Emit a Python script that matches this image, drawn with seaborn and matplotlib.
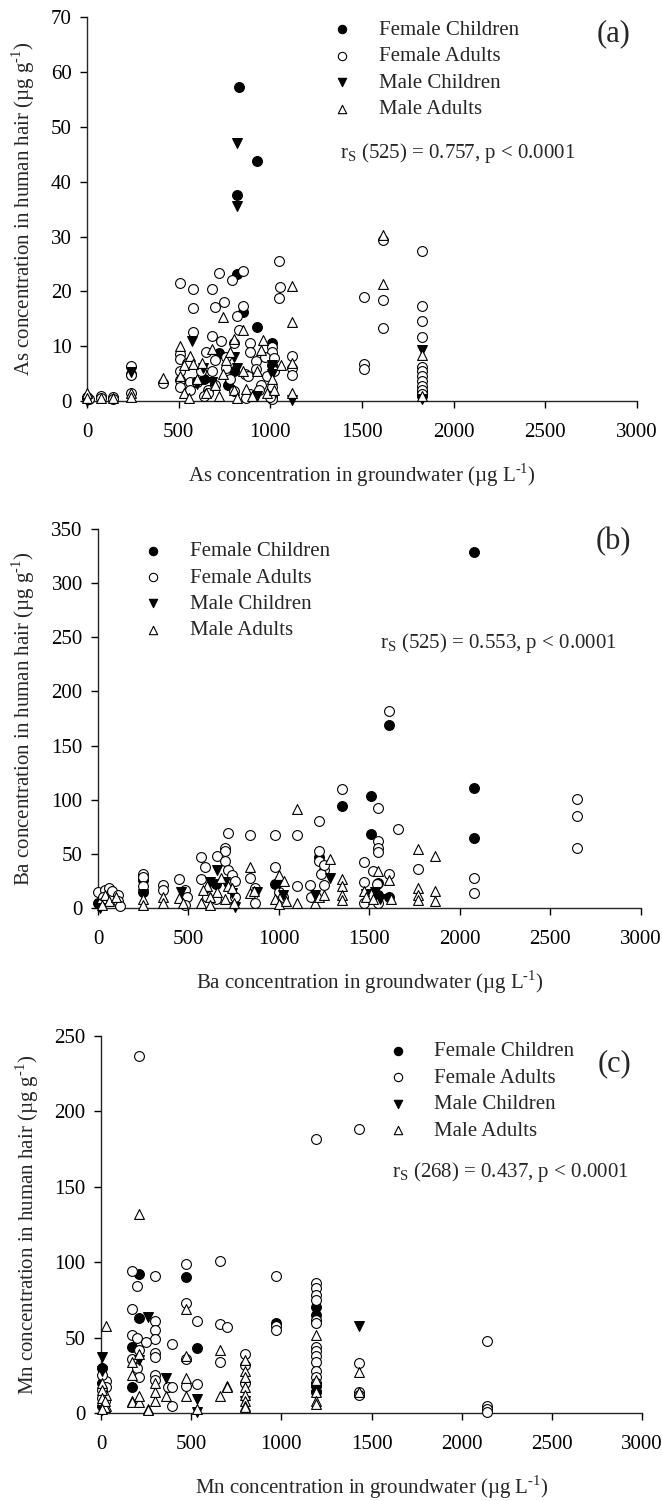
import matplotlib
matplotlib.use("Agg")
import matplotlib.pyplot as plt
import seaborn as sns
import pandas as pd

# ---------------- data ----------------
GROUPS = ["Female Children", "Female Adults", "Male Children", "Male Adults"]

# Panel (a) As
AS_FC_X = [830, 925, 820, 820, 850, 925, 1010, 720, 640, 590, 770, 1830, 0, 240, 1010, 800, 1830]
AS_FC_Y = [57.3, 43.7, 37.6, 23.2, 16.3, 13.5, 10.5, 8.7, 4.0, 3.5, 3.0, 1.8, 0.5, 5.0, 6.5, 5.5, 1.0]
AS_FA_X = [510, 580, 680, 720, 790, 850, 1050, 1055, 1050, 580, 700, 750, 850, 820, 580, 680, 730,
           830, 800, 890, 890, 1010, 1010, 1120, 1120, 1120, 510, 510, 510, 510, 510, 545, 560, 560,
           620, 650, 660, 660, 680, 700, 760, 780, 800, 860, 880, 890, 920, 920, 950, 970, 980, 1010,
           1010, 1010, 1020, 1020, 240, 240, 240, 415, 75, 75, 140, 140, 0, 10, 1510, 1510, 1510,
           1615, 1615, 1615, 1830, 1830, 1830, 1830, 1830, 1830, 1830, 1830, 1830, 1830, 1830, 600, 870,
           640, 700, 760, 940, 1000]
AS_FA_Y = [21.5, 20.5, 20.4, 23.4, 22.0, 23.7, 25.5, 20.8, 18.7, 17.0, 17.2, 18.0, 17.4, 15.5, 12.6,
           11.8, 11.0, 13.0, 10.5, 10.5, 9.0, 9.8, 9.0, 8.3, 6.0, 4.8, 8.6, 7.6, 5.5, 3.8, 2.5, 7.0,
           3.5, 2.0, 5.5, 9.0, 2.0, 1.5, 5.5, 7.5, 6.0, 4.0, 1.8, 5.0, 4.6, 1.2, 7.3, 5.8, 3.0, 8.0,
           4.5, 2.5, 1.0, 0.3, 7.8, 5.5, 6.4, 4.8, 1.5, 3.3, 0.9, 0.5, 0.7, 0.4, 0.8, 0.3, 19.0, 6.7,
           5.8, 29.3, 18.5, 13.4, 27.4, 17.3, 14.6, 11.7, 6.2, 5.5, 4.6, 3.7, 2.8, 2.0, 1.3, 3.5, 0.5,
           1.0, 3.0, 8.0, 2.0, 0.8]
AS_MC_X = [820, 820, 575, 1830, 240, 635, 600, 680, 800, 820, 1010, 1010, 1120, 1830, 0, 930]
AS_MC_Y = [47.0, 35.6, 10.9, 9.3, 5.3, 6.0, 3.2, 3.5, 8.0, 6.0, 6.5, 5.0, 0.2, 0.3, 0.1, 1.0]
AS_MA_X = [1615, 1615, 1120, 1120, 740, 850, 800, 960, 510, 530, 560, 580, 510, 530, 555, 600, 630,
           680, 700, 720, 740, 760, 780, 800, 820, 850, 870, 900, 950, 980, 1010, 1020, 1060, 1120,
           1120, 1830, 1830, 415, 240, 240, 0, 0, 140, 75, 650, 930]
AS_MA_Y = [30.2, 21.4, 21.0, 14.4, 15.3, 13.0, 11.3, 11.2, 10.0, 6.5, 8.3, 6.8, 4.5, 1.5, 0.5, 4.0,
           7.0, 9.5, 3.0, 1.0, 5.0, 7.5, 9.0, 2.0, 0.5, 5.5, 2.2, 1.0, 9.3, 1.5, 4.0, 2.0, 6.5, 7.0,
           1.5, 8.4, 1.0, 4.2, 1.5, 0.8, 1.5, 0.6, 0.5, 0.6, 1.5, 5.5]

# Panel (b) Ba
BA_FC_X = [2080, 1610, 2080, 1350, 1510, 1510, 2080, 1220, 980, 250, 250, 1550, 1550, 650, 0, 1610]
BA_FC_Y = [329, 169, 111, 94, 103, 68, 65, 47, 22, 26, 15, 23, 12, 22, 5, 10]
BA_FA_X = [1610, 1350, 1550, 1220, 1660, 720, 840, 980, 1100, 1550, 1550, 1550, 700, 700, 1220, 570,
           660, 700, 1220, 1250, 1470, 1520, 980, 590, 1770, 1230, 2080, 2080, 2650, 2650, 2650, 1100,
           1170, 1250, 1470, 1540, 1610, 570, 720, 740, 760, 840, 870, 870, 250, 250, 250, 360, 360,
           450, 480, 490, 480, 0, 40, 60, 80, 110, 110, 120, 30, 20, 600, 650, 1000, 1020, 1470, 1550,
           1180, 760, 1250]
BA_FA_Y = [182, 110, 92, 80, 73, 69, 67, 67, 67, 62, 55, 52, 55, 53, 53, 47, 48, 43, 43, 35, 42, 34,
           38, 38, 36, 31, 28, 14, 101, 85, 55, 20, 21, 21, 24, 22, 31, 27, 35, 30, 25, 28, 18, 5, 31,
           29, 20, 21, 17, 27, 17, 10, 3, 15, 17, 18, 16, 12, 6, 2, 10, 5, 10, 8, 15, 10, 5, 5, 10,
           10, 40]
BA_MC_X = [1280, 660, 620, 700, 880, 1000, 1020, 1480, 1530, 460, 250, 740, 1560, 10, 760, 1200]
BA_MC_Y = [28, 35, 24, 24, 15, 22, 12, 13, 15, 15, 13, 14, 8, 0, 1, 12]
BA_MA_X = [1100, 1770, 1860, 1280, 840, 1000, 1030, 1350, 1350, 1350, 1350, 1550, 1610, 1620, 1770,
           1770, 1770, 1860, 1860, 1470, 1480, 1520, 1200, 1220, 1250, 1100, 980, 1000, 1040, 840, 860,
           720, 660, 620, 600, 580, 570, 620, 700, 750, 680, 450, 470, 360, 360, 250, 250, 40, 60, 20,
           100, 740]
BA_MA_Y = [91, 54, 48, 45, 38, 30, 25, 27, 20, 12, 7, 34, 26, 8, 18, 12, 7, 16, 6, 16, 10, 8, 5, 10,
           12, 5, 8, 4, 6, 14, 16, 20, 15, 10, 20, 17, 5, 3, 8, 5, 28, 9, 5, 10, 5, 8, 3, 12, 6, 3,
           10, 18]

# Panel (c) Mn
MN_FC_X = [210, 470, 210, 170, 530, 170, 970, 1190, 1190, 1190, 1190, 5, 5]
MN_FC_Y = [92, 90, 63, 44, 43, 17, 60, 70, 65, 18, 14, 30, 20]
MN_FA_X = [210, 1190, 1430, 170, 200, 300, 470, 660, 970, 170, 470, 300, 300, 300, 170, 200, 210, 170,
           200, 210, 250, 395, 530, 660, 700, 970, 970, 1190, 1190, 1190, 1190, 1190, 1190, 1190, 1190,
           1190, 1190, 1190, 1190, 1190, 470, 660, 300, 300, 300, 300, 370, 395, 395, 470, 530, 800,
           800, 800, 1430, 1430, 1430, 2140, 2140, 2140, 2140, 30, 30, 5, 5, 5, 5, 20]
MN_FA_Y = [237, 182, 188, 94, 84, 91, 99, 101, 91, 69, 73, 61, 55, 49, 52, 50, 42, 36, 30, 24, 47, 46,
           61, 59, 57, 58, 55, 86, 83, 78, 75, 62, 60, 44, 41, 38, 34, 28, 24, 20, 36, 34, 40, 37, 25,
           22, 17, 17, 5, 18, 19, 39, 32, 20, 33, 14, 12, 48, 5, 3, 1, 21, 17, 25, 15, 10, 5, 8]
MN_MC_X = [260, 1430, 210, 360, 530, 530, 5, 5, 1190, 1190, 5, 800]
MN_MC_Y = [64, 58, 35, 23, 9, 1, 37, 28, 17, 12, 2, 8]
MN_MA_X = [210, 30, 470, 660, 470, 210, 170, 170, 470, 470, 660, 700, 1190, 1190, 1190, 1190, 1190,
           1430, 1430, 800, 800, 800, 800, 800, 800, 800, 800, 170, 170, 210, 210, 260, 260, 300, 300,
           300, 360, 530, 30, 30, 5, 5, 5, 20, 20, 5, 700]
MN_MA_Y = [132, 58, 69, 42, 38, 39, 34, 25, 23, 11, 11, 18, 52, 22, 14, 8, 6, 27, 14, 35, 28, 24, 17,
           12, 8, 5, 4, 8, 7, 7, 11, 3, 2, 8, 14, 20, 11, 3, 12, 5, 20, 15, 10, 4, 8, 3, 17]

X_TICKS = [0, 500, 1000, 1500, 2000, 2500, 3000]
AS_Y_TICKS = [0, 10, 20, 30, 40, 50, 60, 70]
BA_Y_TICKS = [0, 50, 100, 150, 200, 250, 300, 350]
MN_Y_TICKS = [0, 50, 100, 150, 200, 250]

PANELS = [
    dict(el="As", letter="(a)", stat="r$_{\\mathregular{S}}$ (525) = 0.757, p < 0.0001",
         data=[(AS_FC_X, AS_FC_Y), (AS_FA_X, AS_FA_Y), (AS_MC_X, AS_MC_Y), (AS_MA_X, AS_MA_Y)],
         yticks=AS_Y_TICKS),
    dict(el="Ba", letter="(b)", stat="r$_{\\mathregular{S}}$ (525) = 0.553, p < 0.0001",
         data=[(BA_FC_X, BA_FC_Y), (BA_FA_X, BA_FA_Y), (BA_MC_X, BA_MC_Y), (BA_MA_X, BA_MA_Y)],
         yticks=BA_Y_TICKS),
    dict(el="Mn", letter="(c)", stat="r$_{\\mathregular{S}}$ (268) = 0.437, p < 0.0001",
         data=[(MN_FC_X, MN_FC_Y), (MN_FA_X, MN_FA_Y), (MN_MC_X, MN_MC_Y), (MN_MA_X, MN_MA_Y)],
         yticks=MN_Y_TICKS),
]

# ---------------- styling ----------------
sns.set_style("ticks")
plt.rcParams["font.family"] = ["Liberation Serif", "DejaVu Serif"]
plt.rcParams["mathtext.fontset"] = "custom"
plt.rcParams["mathtext.rm"] = "Liberation Serif"
plt.rcParams["axes.linewidth"] = 1.0

STYLE = {
    "Female Children": dict(marker="o", facecolor="black"),
    "Female Adults": dict(marker="o", facecolor="white"),
    "Male Children": dict(marker="v", facecolor="black"),
    "Male Adults": dict(marker="^", facecolor="white"),
}

FS = 15
fig = plt.figure(figsize=(6.62, 15.01), dpi=100)

axes_rect = [
    [0.1314, 0.7328, 0.8308, 0.2558],
    [0.1480, 0.3951, 0.8200, 0.2525],
    [0.1526, 0.0586, 0.8172, 0.2512],
]
legend_anchor = [(0.445, 0.992), (0.083, 0.967), (0.529, 0.985)]
letter_pos = [(0.958, 0.958), (0.950, 0.966), (0.950, 0.926)]
stat_pos = [(0.46, 0.646), (0.519, 0.699), (0.538, 0.639)]

SUP = "$^{\\text{-1}}$"

for i, p in enumerate(PANELS):
    ax = fig.add_axes(axes_rect[i])
    for g, (xs, ys) in zip(GROUPS, p["data"]):
        df = pd.DataFrame({"x": xs, "y": ys})
        st = STYLE[g]
        sns.scatterplot(data=df, x="x", y="y", marker=st["marker"], s=50,
                        facecolor=st["facecolor"], edgecolor="black", linewidth=0.8,
                        label=g, ax=ax, clip_on=False, zorder=3)
    ax.set_xlim(0, 3000)
    ax.set_ylim(0, p["yticks"][-1])
    ax.set_xticks(X_TICKS)
    ax.set_yticks(p["yticks"])
    sns.despine(ax=ax)
    ax.tick_params(axis="both", direction="out", length=5, width=1, labelsize=FS, colors="black")
    ax.tick_params(axis="x", pad=11)
    ax.tick_params(axis="y", pad=6)
    ax.set_xlabel(p["el"] + " concentration in groundwater (µg L" + SUP + ")",
                  fontsize=FS, labelpad=14)
    ax.set_ylabel(p["el"] + " concentration in human hair (µg g" + SUP + ")",
                  fontsize=FS, labelpad=10)
    leg = ax.legend(loc="upper left", bbox_to_anchor=legend_anchor[i], frameon=False,
                    fontsize=FS, handlelength=1.0, handletextpad=1.25, labelspacing=0.33,
                    borderpad=0, borderaxespad=0, markerscale=0.85)
    ax.text(*letter_pos[i], p["letter"], transform=ax.transAxes, fontsize=22,
            ha="center", va="center")
    ax.text(*stat_pos[i], p["stat"], transform=ax.transAxes, fontsize=FS,
            ha="left", va="center")

fig.savefig("out.png", dpi=100)
